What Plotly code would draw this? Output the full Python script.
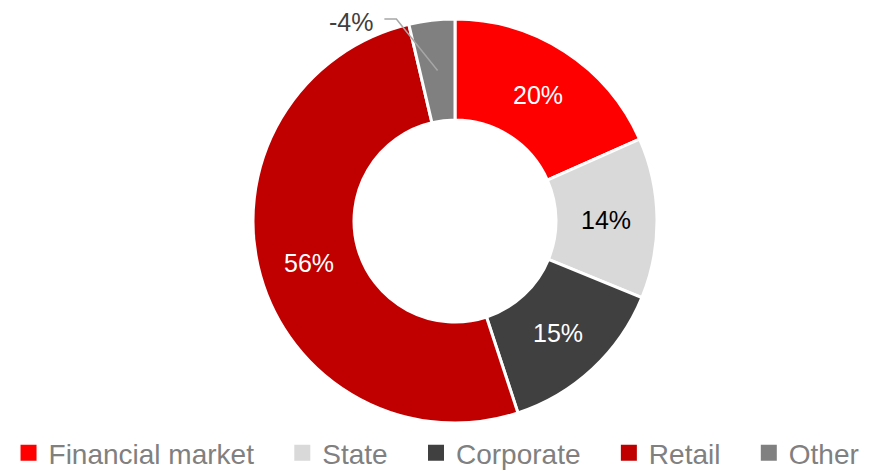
import math
import plotly.graph_objects as go

# Share of total, percent (Other is a negative contribution)
categories = ["Financial market", "State", "Corporate", "Retail", "Other"]
shares = [20, 14, 15, 56, -4]
colors = ["#FF0000", "#D9D9D9", "#404040", "#C00000", "#808080"]
text_colors = ["#FFFFFF", "#000000", "#FFFFFF", "#FFFFFF", "#404040"]

W, H = 871, 470
FONT = "Liberation Sans, Arial, sans-serif"

# Donut geometry in pixels
cx, cy, r_out = 455, 221, 202
hole = 0.5
r_mid = r_out * (1 + hole) / 2

sizes = [abs(s) for s in shares]
labels_txt = [f"{s}%" for s in shares]
total = sum(sizes)


def px(x):
    return x / W


def py(y):
    return 1 - y / H


fig = go.Figure(
    go.Pie(
        labels=categories,
        values=sizes,
        textinfo="none",
        marker=dict(colors=colors, line=dict(color="#FFFFFF", width=3)),
        hole=hole,
        sort=False,
        direction="clockwise",
        rotation=0,
        showlegend=False,
        hoverinfo="label+value",
        domain=dict(
            x=[(2 * cx - W) / W, 1.0],
            y=[py(cy + r_out), py(cy - r_out)],
        ),
    )
)

# Legend entries with larger square swatches
pad = "\u00a0" * 3
for i, (cat, col) in enumerate(zip(categories, colors)):
    fig.add_trace(
        go.Scatter(
            x=[None], y=[None], mode="markers",
            marker=dict(symbol="square", size=17, color=col),
            name=cat + (pad if i < len(categories) - 1 else ""),
            showlegend=True,
        )
    )

# Value labels at the middle of each ring segment
cum = 0.0
mids = []
for s in sizes:
    mids.append((cum + s / 2) / total * 360.0)
    cum += s

for i, (txt, ang) in enumerate(zip(labels_txt, mids)):
    if shares[i] < 0:
        continue
    x = cx + r_mid * math.sin(math.radians(ang))
    y = cy - r_mid * math.cos(math.radians(ang))
    fig.add_annotation(
        x=px(x), y=py(y + 1), xref="paper", yref="paper",
        xanchor="center", yanchor="middle", showarrow=False,
        text=txt, font=dict(family=FONT, size=25, color=text_colors[i]),
    )

# Outside label with an elbow leader line for the negative slice
ang = mids[4]
tip_x = cx + r_mid * math.sin(math.radians(ang))
tip_y = cy - r_mid * math.cos(math.radians(ang))
lbl_y = 19
elbow_x = tip_x - (tip_y - lbl_y) * 0.8
end_x = elbow_x - 12

fig.add_shape(
    type="path",
    xref="paper", yref="paper",
    path=f"M {px(end_x)},{py(lbl_y)} L {px(elbow_x)},{py(lbl_y)} L {px(tip_x)},{py(tip_y)}",
    line=dict(color="#A6A6A6", width=1.5),
)
fig.add_annotation(
    x=px(end_x - 9), y=py(lbl_y + 3), xref="paper", yref="paper",
    xanchor="right", yanchor="middle", showarrow=False,
    text=labels_txt[4],
    font=dict(family=FONT, size=25, color=text_colors[4]),
)

fig.update_layout(
    width=W, height=H,
    margin=dict(l=0, r=0, t=0, b=0, autoexpand=False),
    paper_bgcolor="#FFFFFF",
    plot_bgcolor="#FFFFFF",
    xaxis=dict(visible=False),
    yaxis=dict(visible=False),
    showlegend=True,
    legend=dict(
        orientation="h",
        x=0.0098, xanchor="left",
        y=py(428), yanchor="top",
        font=dict(family=FONT, size=28, color="#808080"),
        bgcolor="rgba(0,0,0,0)",
    ),
)

fig.write_html("out.html")
